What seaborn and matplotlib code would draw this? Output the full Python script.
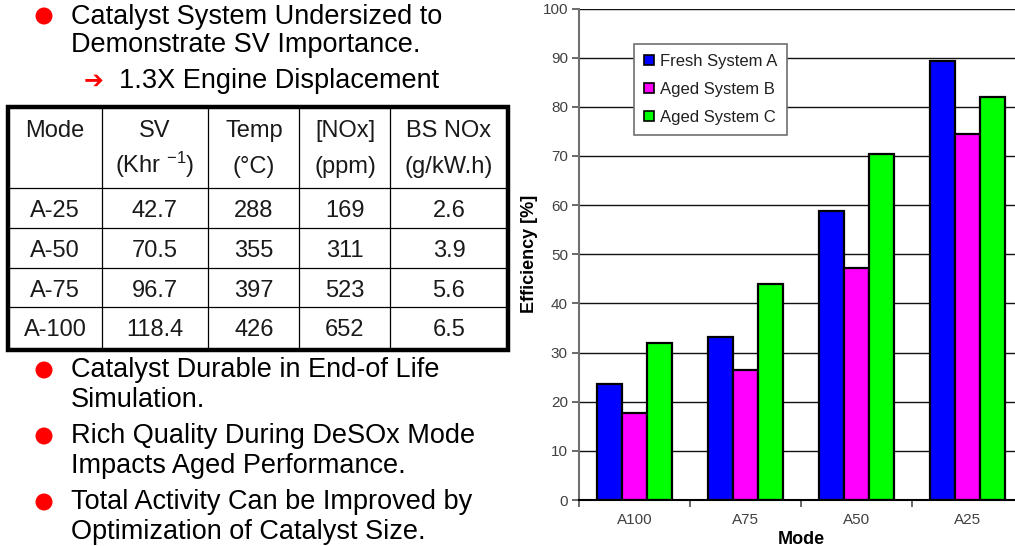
import matplotlib
matplotlib.use("Agg")
import matplotlib.pyplot as plt
import seaborn as sns
import pandas as pd
from matplotlib.patches import Rectangle, Circle

# ---------------- data ----------------
modes = ["A100", "A75", "A50", "A25"]
fresh_system_a = [23.5, 33.2, 58.9, 89.4]
aged_system_b = [17.8, 26.4, 47.3, 74.5]
aged_system_c = [31.9, 43.9, 70.3, 82.0]
series_names = ["Fresh System A", "Aged System B", "Aged System C"]
series_colors = ["#0000FF", "#FF00FF", "#00FF00"]
y_ticks = [0, 10, 20, 30, 40, 50, 60, 70, 80, 90, 100]

table_head_1 = ["Mode", "SV", "Temp", "[NOx]", "BS NOx"]
table_head_2 = ["", r"(Khr $^{-1}$)", "(°C)", "(ppm)", "(g/kW.h)"]
table_mode = ["A-25", "A-50", "A-75", "A-100"]
table_sv = ["42.7", "70.5", "96.7", "118.4"]
table_temp = ["288", "355", "397", "426"]
table_nox = ["169", "311", "523", "652"]
table_bsnox = ["2.6", "3.9", "5.6", "6.5"]

bullet_top = ["Catalyst System Undersized to", "Demonstrate SV Importance."]
sub_point = "1.3X Engine Displacement"
bullets_bottom = [
    ["Catalyst Durable in End-of Life", "Simulation."],
    ["Rich Quality During DeSOx Mode", "Impacts Aged Performance."],
    ["Total Activity Can be Improved by", "Optimization of Catalyst Size."],
]

# ---------------- style ----------------
sns.set_theme(style="white")
plt.rcParams["font.family"] = ["Liberation Sans", "DejaVu Sans"]
plt.rcParams["mathtext.fontset"] = "custom"
plt.rcParams["mathtext.rm"] = "Liberation Sans"
plt.rcParams["mathtext.it"] = "Liberation Sans:italic"
plt.rcParams["mathtext.bf"] = "Liberation Sans:bold"

W, H = 1015, 546
fig = plt.figure(figsize=(W / 100, H / 100), dpi=100)
fig.patch.set_facecolor("white")

# ---------------- chart ----------------
ax_l, ax_r, ax_t, ax_b = 579, 1023, 8.5, 500
ax = fig.add_axes([ax_l / W, (H - ax_b) / H, (ax_r - ax_l) / W, (ax_b - ax_t) / H])

df = pd.DataFrame({
    "Mode": modes * 3,
    "Efficiency": fresh_system_a + aged_system_b + aged_system_c,
    "System": [series_names[0]] * 4 + [series_names[1]] * 4 + [series_names[2]] * 4,
})
sns.barplot(data=df, x="Mode", y="Efficiency", hue="System", order=modes,
            hue_order=series_names, palette=series_colors, saturation=1,
            width=0.67, edgecolor="black", linewidth=1.6, errorbar=None, ax=ax)

ax.set_xlim(-0.5, len(modes) - 0.5)
ax.set_ylim(0, 100)
ax.set_yticks(y_ticks)
ax.set_axisbelow(True)
ax.yaxis.grid(True, color="#111111", linewidth=1.0)
ax.xaxis.grid(False)
ax.spines["top"].set_visible(False)
ax.spines["right"].set_visible(False)
ax.spines["left"].set_color("#707070")
ax.spines["left"].set_linewidth(1.5)
ax.spines["bottom"].set_color("black")
ax.spines["bottom"].set_linewidth(1.5)

ax.set_xticks([i - 0.5 for i in range(len(modes) + 1)], minor=True)
ax.tick_params(axis="x", which="major", length=0, labelsize=11, labelcolor="#404040", pad=9, bottom=True)
ax.tick_params(axis="x", which="minor", length=5, width=1.2, color="#505050", bottom=True, direction="out")
ax.tick_params(axis="y", which="major", length=5, width=1.2, color="#505050", left=True,
               labelsize=11, labelcolor="#404040", pad=3, direction="out")

ax.set_ylabel("Efficiency [%]", fontweight="bold", fontsize=13, color="black")
ax.yaxis.set_label_coords((538 - ax_l) / (ax_r - ax_l), 0.5)
ax.set_xlabel("Mode", fontweight="bold", fontsize=13, color="black")
ax.xaxis.set_label_coords((801 - ax_l) / (ax_r - ax_l), -(531 - ax_b) / (ax_b - ax_t))

leg = ax.legend(loc="upper left",
                bbox_to_anchor=((634 - ax_l) / (ax_r - ax_l), (ax_b - 44) / (ax_b - ax_t)),
                borderaxespad=0, frameon=True, fancybox=False, framealpha=1,
                edgecolor="#707070", fontsize=12, handlelength=0.6, handleheight=0.6,
                handletextpad=0.35, labelspacing=0.78, borderpad=0.6, title=None)
leg.get_frame().set_linewidth(1.2)
for h in leg.legend_handles:
    h.set_edgecolor("black")
    h.set_linewidth(1.2)
for t in leg.get_texts():
    t.set_color("#202020")

# ---------------- slide text / table overlay ----------------
tx = fig.add_axes([0, 0, 1, 1], zorder=5)
tx.set_xlim(0, W)
tx.set_ylim(H, 0)
tx.axis("off")
tx.patch.set_alpha(0)

bullet_x, text_x = 44, 71
body_fs = 19.5
red = "#FF0000"

# top bullet
tx.add_patch(Circle((bullet_x, 16), 7.8, color=red))
for line, base in zip(bullet_top, [24, 52]):
    tx.text(text_x, base, line, fontsize=body_fs, va="baseline", ha="left", color="black")
tx.text(94, 81, "\u2794", fontsize=17, va="center", ha="center", color=red,
        family=["DejaVu Sans"], fontweight="bold")
tx.text(119, 88, sub_point, fontsize=body_fs, va="baseline", ha="left", color="black")

# table
t_left, t_right, t_top, t_bottom = 8, 508, 107, 350
col_lines = [102, 208, 299, 390]
row_lines = [188, 228, 268, 307]
col_centers = [55, 155, 254, 345, 449]
tx.add_patch(Rectangle((t_left, t_top), t_right - t_left, t_bottom - t_top,
                       fill=False, edgecolor="black", linewidth=3.2, zorder=3))
for cx in col_lines:
    tx.plot([cx, cx], [t_top, t_bottom], color="black", linewidth=0.9)
for ry in row_lines:
    tx.plot([t_left, t_right], [ry, ry], color="black", linewidth=0.9)

tab_fs = 17
tcolor = "#1a1a1a"
for c, txt in zip(col_centers, table_head_1):
    tx.text(c, 137, txt, fontsize=tab_fs, ha="center", va="baseline", color=tcolor)
for c, txt in zip(col_centers, table_head_2):
    if txt:
        tx.text(c, 173, txt, fontsize=tab_fs, ha="center", va="baseline", color=tcolor)
row_bases = [217, 257, 297, 336]
columns = [table_mode, table_sv, table_temp, table_nox, table_bsnox]
for c, col in zip(col_centers, columns):
    for base, txt in zip(row_bases, col):
        tx.text(c, base, txt, fontsize=tab_fs, ha="center", va="baseline", color=tcolor)

# bottom bullets
bullet_ys = [370, 436, 502]
for by, lines in zip(bullet_ys, bullets_bottom):
    tx.add_patch(Circle((bullet_x, by), 7.8, color=red))
    for k, line in enumerate(lines):
        tx.text(text_x, by + 7 + 30 * k, line, fontsize=body_fs, va="baseline", ha="left", color="black")

fig.savefig("out.png", dpi=100)
